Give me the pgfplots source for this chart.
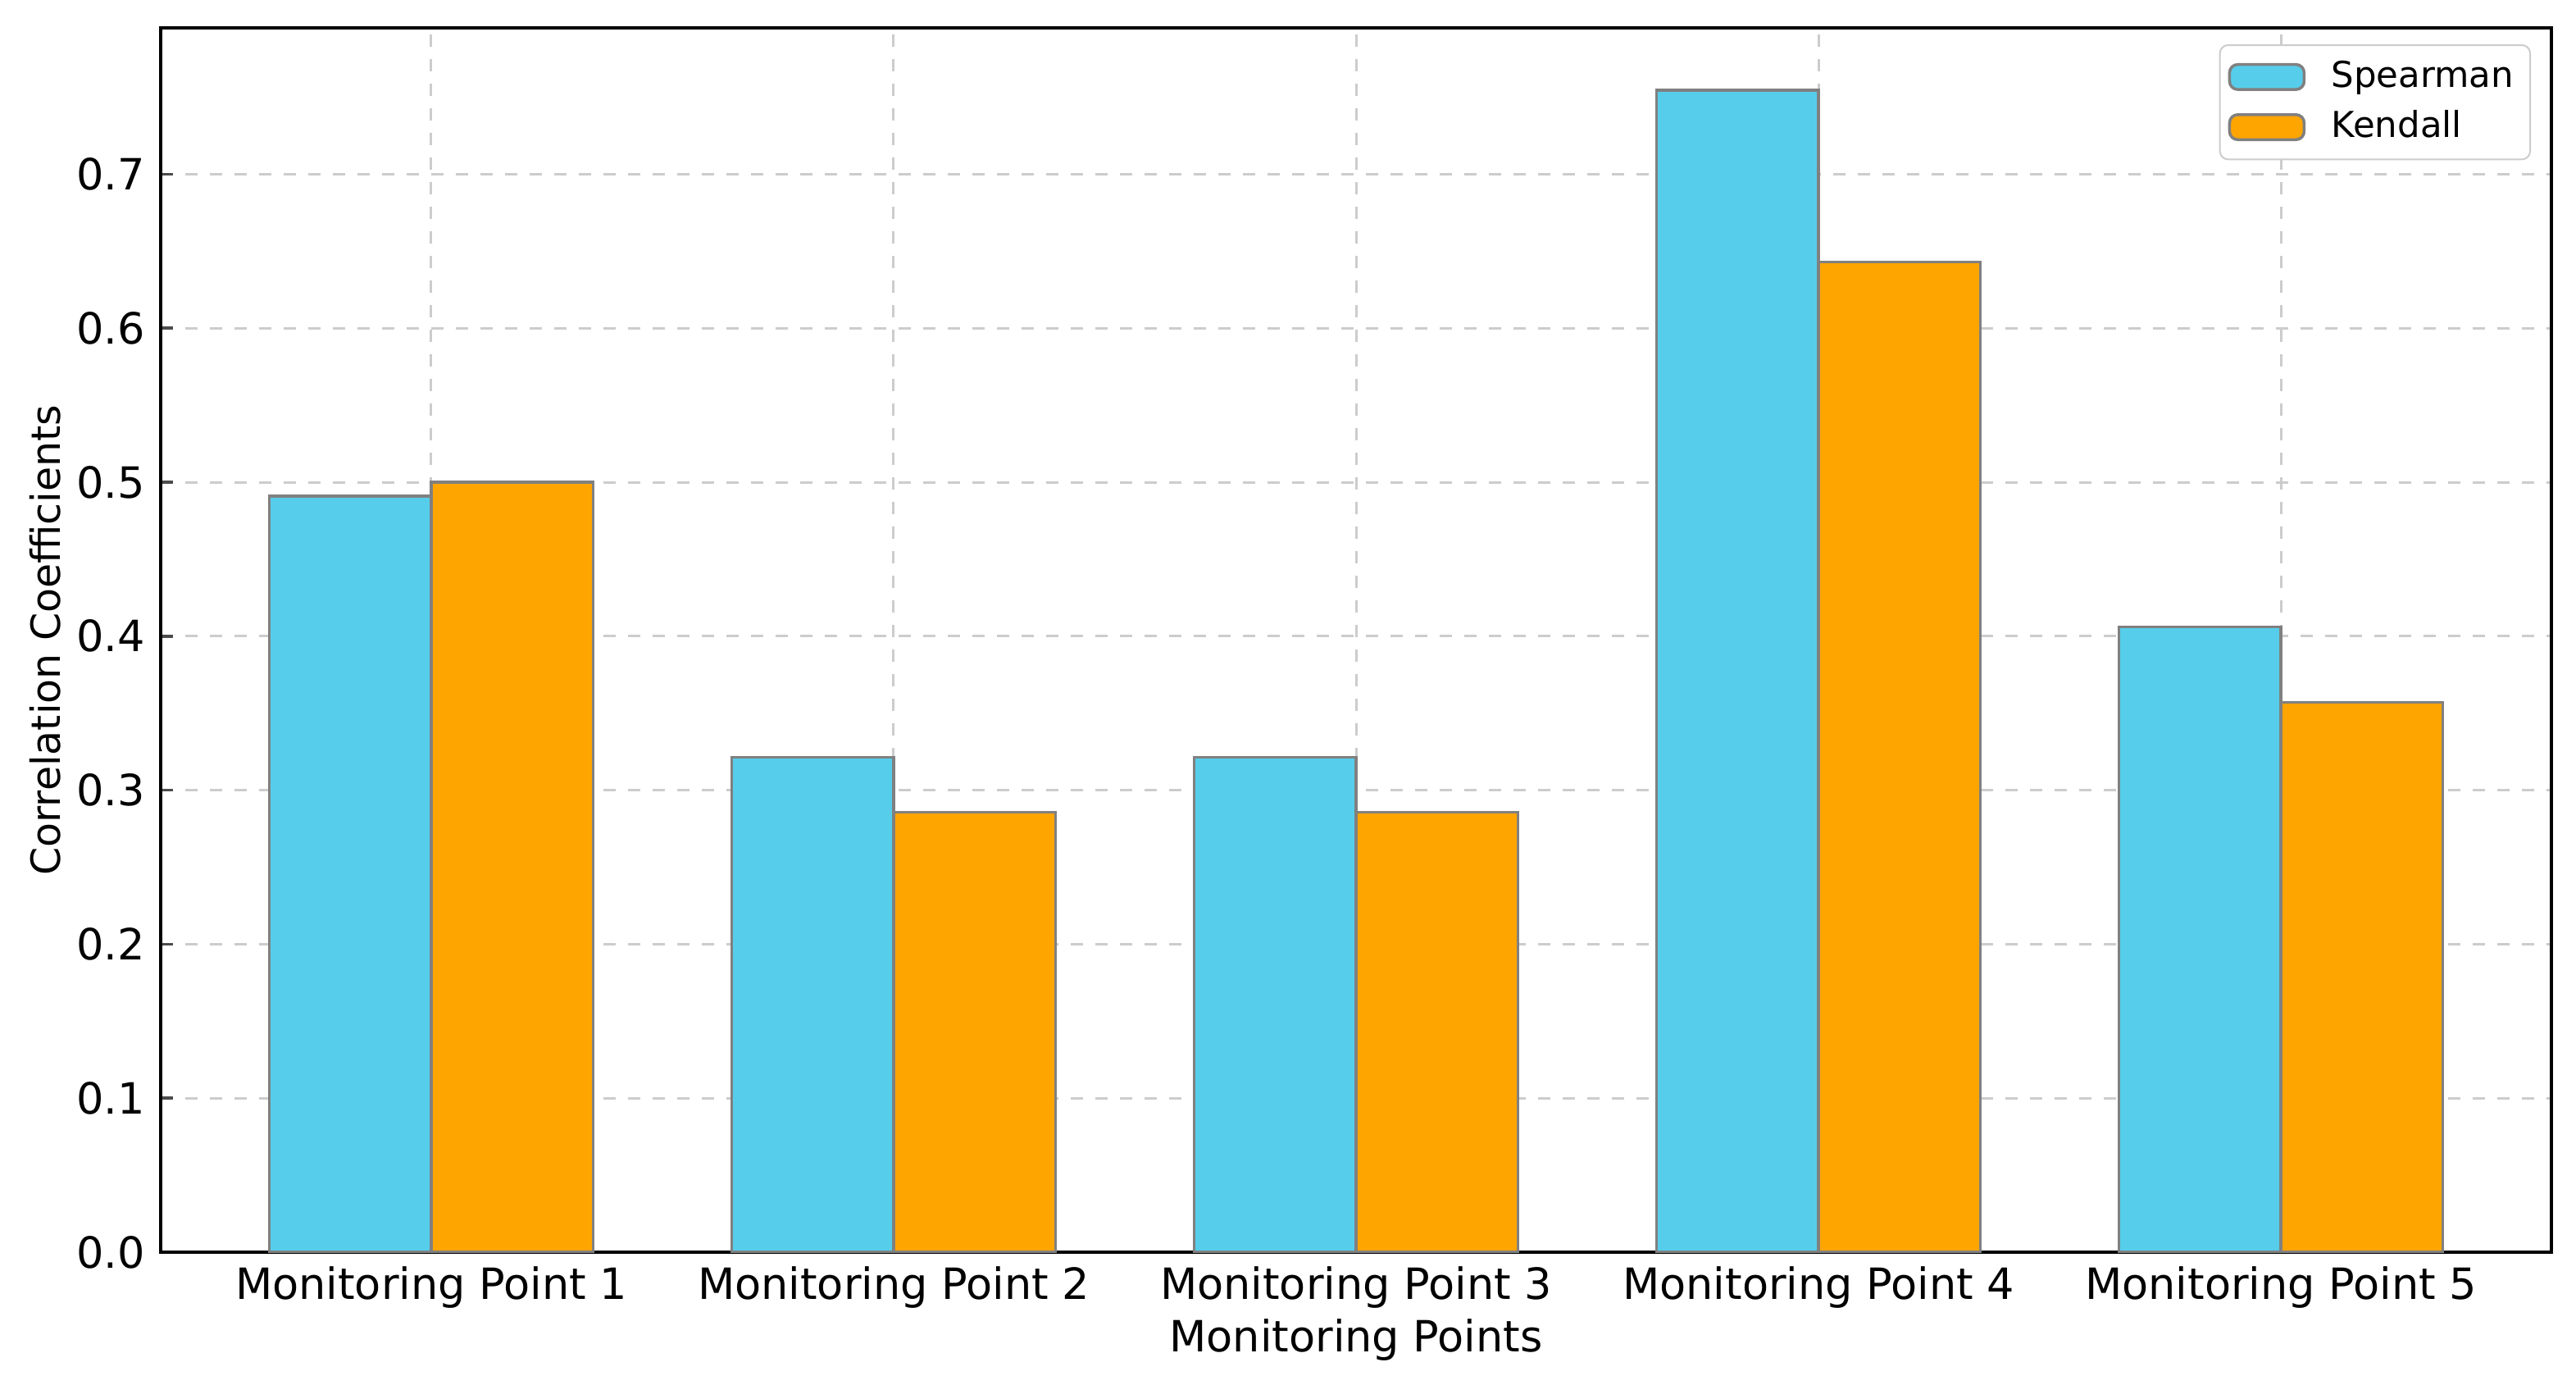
\documentclass[border=0pt]{standalone}
\usepackage{pgfplots}
\pgfplotsset{compat=1.18}
\usepackage{fontspec}
\setmainfont{DejaVu Sans}
\definecolor{spear}{RGB}{86,206,235}
\definecolor{kend}{RGB}{255,165,0}
\definecolor{edgegray}{RGB}{128,128,128}
\definecolor{gridgray}{RGB}{204,204,204}
\begin{document}
\begin{tikzpicture}
\path[use as bounding box] (-39.2pt,-30pt) rectangle (589.2pt,305.4pt);
\begin{axis}[
  at={(0,0)}, anchor=south west,
  width=583.2pt, height=298.6pt,
  scale only axis,
  xmin=-0.585, xmax=4.585,
  ymin=0, ymax=0.795,
  xtick={0,1,2,3,4},
  xticklabels={Monitoring Point 1,Monitoring Point 2,Monitoring Point 3,Monitoring Point 4,Monitoring Point 5},
  ytick={0,0.1,0.2,0.3,0.4,0.5,0.6,0.7},
  yticklabel style={xshift=-0.3pt, /pgf/number format/.cd, fixed, fixed zerofill, precision=1},
  /pgf/number format/assume math mode=true,
  tick align=inside,
  major tick length=3pt,
  tick style={black!70, line width=0.7pt},
  xtick pos=bottom, ytick pos=left,
  axis line style={black, line width=0.7pt},
  grid=major,
  major grid style={gridgray, dashed, line width=0.6pt},
  font=\fontsize{10.5}{12.6}\selectfont,
  tick label style={font=\fontsize{10.5}{12.6}\selectfont},
  xlabel={Monitoring Points},
  ylabel={Correlation Coefficients},
  xlabel style={yshift=4.2pt},
  ylabel style={yshift=-3pt, font=\fontsize{9.8}{11.8}\selectfont},
  legend style={at={(1,1)}, anchor=north east, xshift=-5pt, yshift=-4pt,
    draw=black!20, rounded corners=2pt, fill=white, font=\fontsize{8.7}{10.4}\selectfont,
    row sep=0.2pt, inner xsep=2pt, inner ysep=1.8pt},
  legend cell align=left,
  legend image code/.code={\draw[#1] (0pt,-3.05pt) rectangle (18.2pt,3.05pt); \path (22.5pt,0pt);},
  bar width=0.35,
]
\addplot[ybar, bar shift=-0.175, fill=spear, draw=edgegray, line width=0.7pt]
  coordinates {(0,0.4909) (1,0.3214) (2,0.3214) (3,0.7545) (4,0.4061)};
\addlegendentry{Spearman}
\addplot[ybar, bar shift=0.175, fill=kend, draw=edgegray, line width=0.7pt]
  coordinates {(0,0.5) (1,0.2857) (2,0.2857) (3,0.6429) (4,0.3571)};
\addlegendentry{Kendall}
\end{axis}
\end{tikzpicture}
\end{document}
